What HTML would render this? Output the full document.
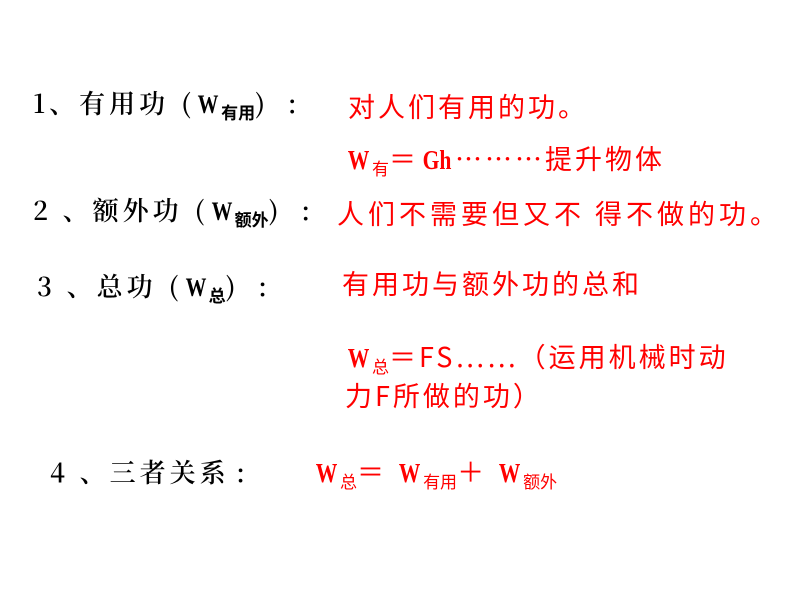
<!DOCTYPE html>
<html><head><meta charset="utf-8"><style>
body{margin:0;width:800px;height:600px;background:#fff;position:relative;overflow:hidden}
.t{position:absolute;white-space:nowrap;line-height:1}
.b{color:#000;font-family:"Noto Serif CJK SC","Liberation Serif",serif;font-size:26px;font-weight:600;letter-spacing:4px}
.r{color:#f00;font-family:"Noto Sans CJK SC","Liberation Sans",sans-serif;font-size:27px;letter-spacing:3px;font-weight:normal}
.w{font-family:"Liberation Serif",serif;letter-spacing:0;font-weight:bold;transform:scaleX(.8);display:inline-block}
.p{display:inline-block;width:26px;text-align:center}
sub{font-size:17px;vertical-align:-6px;font-family:"Noto Sans CJK SC",sans-serif;letter-spacing:0}
</style></head><body>
<div class="t b" style="left:33px;top:90px">1、有用功<span class="p" style="text-align:right">(</span><span class="w">W</span><sub>有用</sub><span class="p" style="text-align:left">)</span><span class="p">:</span></div>
<div class="t r" style="left:348px;top:92px">对人们有用的功。</div>
<div class="t r" style="left:345px;top:144px"><span class="w">W</span><sub>有</sub>＝<span class="w">Gh</span>………提升物体</div>
<div class="t b" style="left:33px;top:197px">2 、额外功<span class="p" style="text-align:right">(</span><span class="w">W</span><sub>额外</sub><span class="p" style="text-align:left">)</span><span class="p">:</span></div>
<div class="t r" style="left:337px;top:199px;letter-spacing:4px">人们不需要但又不 得不做的功。</div>
<div class="t b" style="left:37px;top:273px">3 、总功<span class="p" style="text-align:right">(</span><span class="w">W</span><sub>总</sub><span class="p" style="text-align:left">)</span><span class="p">:</span></div>
<div class="t r" style="left:342px;top:269px">有用功与额外功的总和</div>
<div class="t r" style="left:345px;top:342px"><span class="w">W</span><sub>总</sub>＝FS……（运用机械时动</div>
<div class="t r" style="left:345px;top:381px">力F所做的功）</div>
<div class="t b" style="left:50px;top:459px">4 、三者关系<span class="p">:</span></div>
<div class="t r" style="left:313px;top:457px"><span class="w">W</span><sub>总</sub>＝ <span class="w">W</span><sub>有用</sub>＋ <span class="w">W</span><sub>额外</sub></div>
</body></html>
